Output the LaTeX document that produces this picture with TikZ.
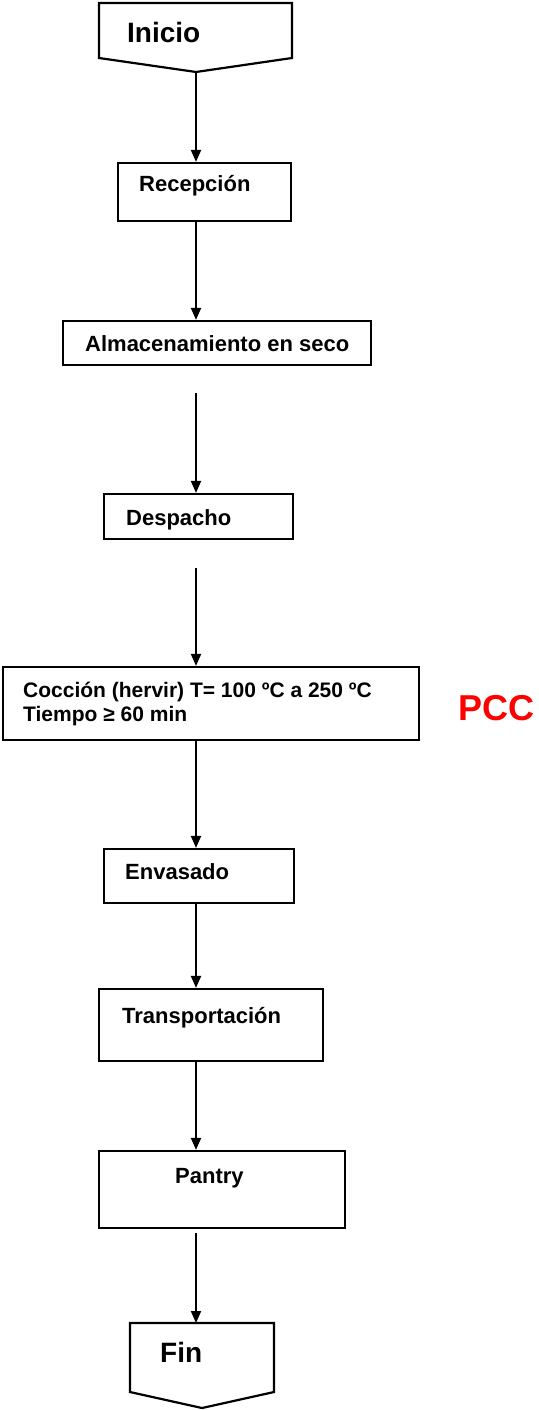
\documentclass[tikz,border=0pt]{standalone}
\usepackage{fontspec}
\setmainfont{Liberation Sans}
\usetikzlibrary{arrows.meta}
\begin{document}
\begin{tikzpicture}[x=1pt,y=-1pt,
  box/.style={draw, line width=2.2pt, rectangle, inner sep=0pt},
  offpage/.style={draw, line width=2.2pt, line join=miter},
  txt/.style={font=\bfseries\fontsize{22}{26}\selectfont, inner sep=0pt, anchor=base west},
  bigtxt/.style={font=\bfseries\fontsize{28}{32}\selectfont, inner sep=0pt, anchor=base west},
  flow/.style={line width=2pt, -{Triangle[length=12pt,width=10pt]}},
]
\useasboundingbox (0,0) rectangle (538,1410);

% start and end connectors
\draw[offpage] (99,3) -- (292,3) -- (292,58) -- (196,72) -- (99,58) -- cycle;
\coordinate (inicio-tip) at (196,72);
\node[bigtxt] (inicio) at (127,43) {Inicio};

\draw[offpage] (130,1323) -- (274,1323) -- (274,1392) -- (202,1408) -- (130,1392) -- cycle;
\coordinate (fin-top) at (196,1323);
\node[bigtxt] (fin) at (160,1362) {Fin};

% process boxes
\node[box, minimum width=173pt, minimum height=58pt] (rec) at (204.5,192) {};
\node[txt] (rec-t) at (139,191) {Recepción};

\node[box, minimum width=308pt, minimum height=44pt] (alm) at (217,343) {};
\node[txt] (alm-t) at (85,351) {Almacenamiento en seco};

\node[box, minimum width=189pt, minimum height=45pt] (desp) at (198.5,516.5) {};
\node[txt] (desp-t) at (126,525) {Despacho};

\node[box, minimum width=416pt, minimum height=73pt] (coc) at (211,703.5) {};
\node[font=\bfseries\fontsize{21}{24}\selectfont, inner sep=0pt, anchor=base west, align=left] (coc-t) at (23,721)
  {Cocción (hervir) T= 100 ºC a 250 ºC\\Tiempo ≥ 60 min};
\node[font=\bfseries\fontsize{36}{40}\selectfont, text=red, inner sep=0pt, anchor=base west] (pcc) at (458,720) {PCC};

\node[box, minimum width=190pt, minimum height=54pt] (env) at (199,876) {};
\node[txt] (env-t) at (125,879) {Envasado};

\node[box, minimum width=224pt, minimum height=72pt] (trans) at (211,1025) {};
\node[txt] (trans-t) at (122,1023) {Transportación};

\node[box, minimum width=246pt, minimum height=77pt] (pan) at (222,1189.5) {};
\node[txt] (pan-t) at (175,1183) {Pantry};

% free ends of the detached connectors
\coordinate (s3) at (196,393);
\coordinate (s4) at (196,568);
\coordinate (s8) at (196,1233);

% connectors
\draw[flow] (inicio-tip) -- (rec.north -| inicio-tip);
\draw[flow] (rec.south -| inicio-tip) -- (alm.north -| inicio-tip);
\draw[flow] (s3) -- (desp.north -| s3);
\draw[flow] (s4) -- (coc.north -| s4);
\draw[flow] (coc.south -| s4) -- (env.north -| s4);
\draw[flow] (env.south -| s4) -- (trans.north -| s4);
\draw[flow] (trans.south -| s4) -- (pan.north -| s4);
\draw[flow] (s8) -- (fin-top);
\end{tikzpicture}
\end{document}
